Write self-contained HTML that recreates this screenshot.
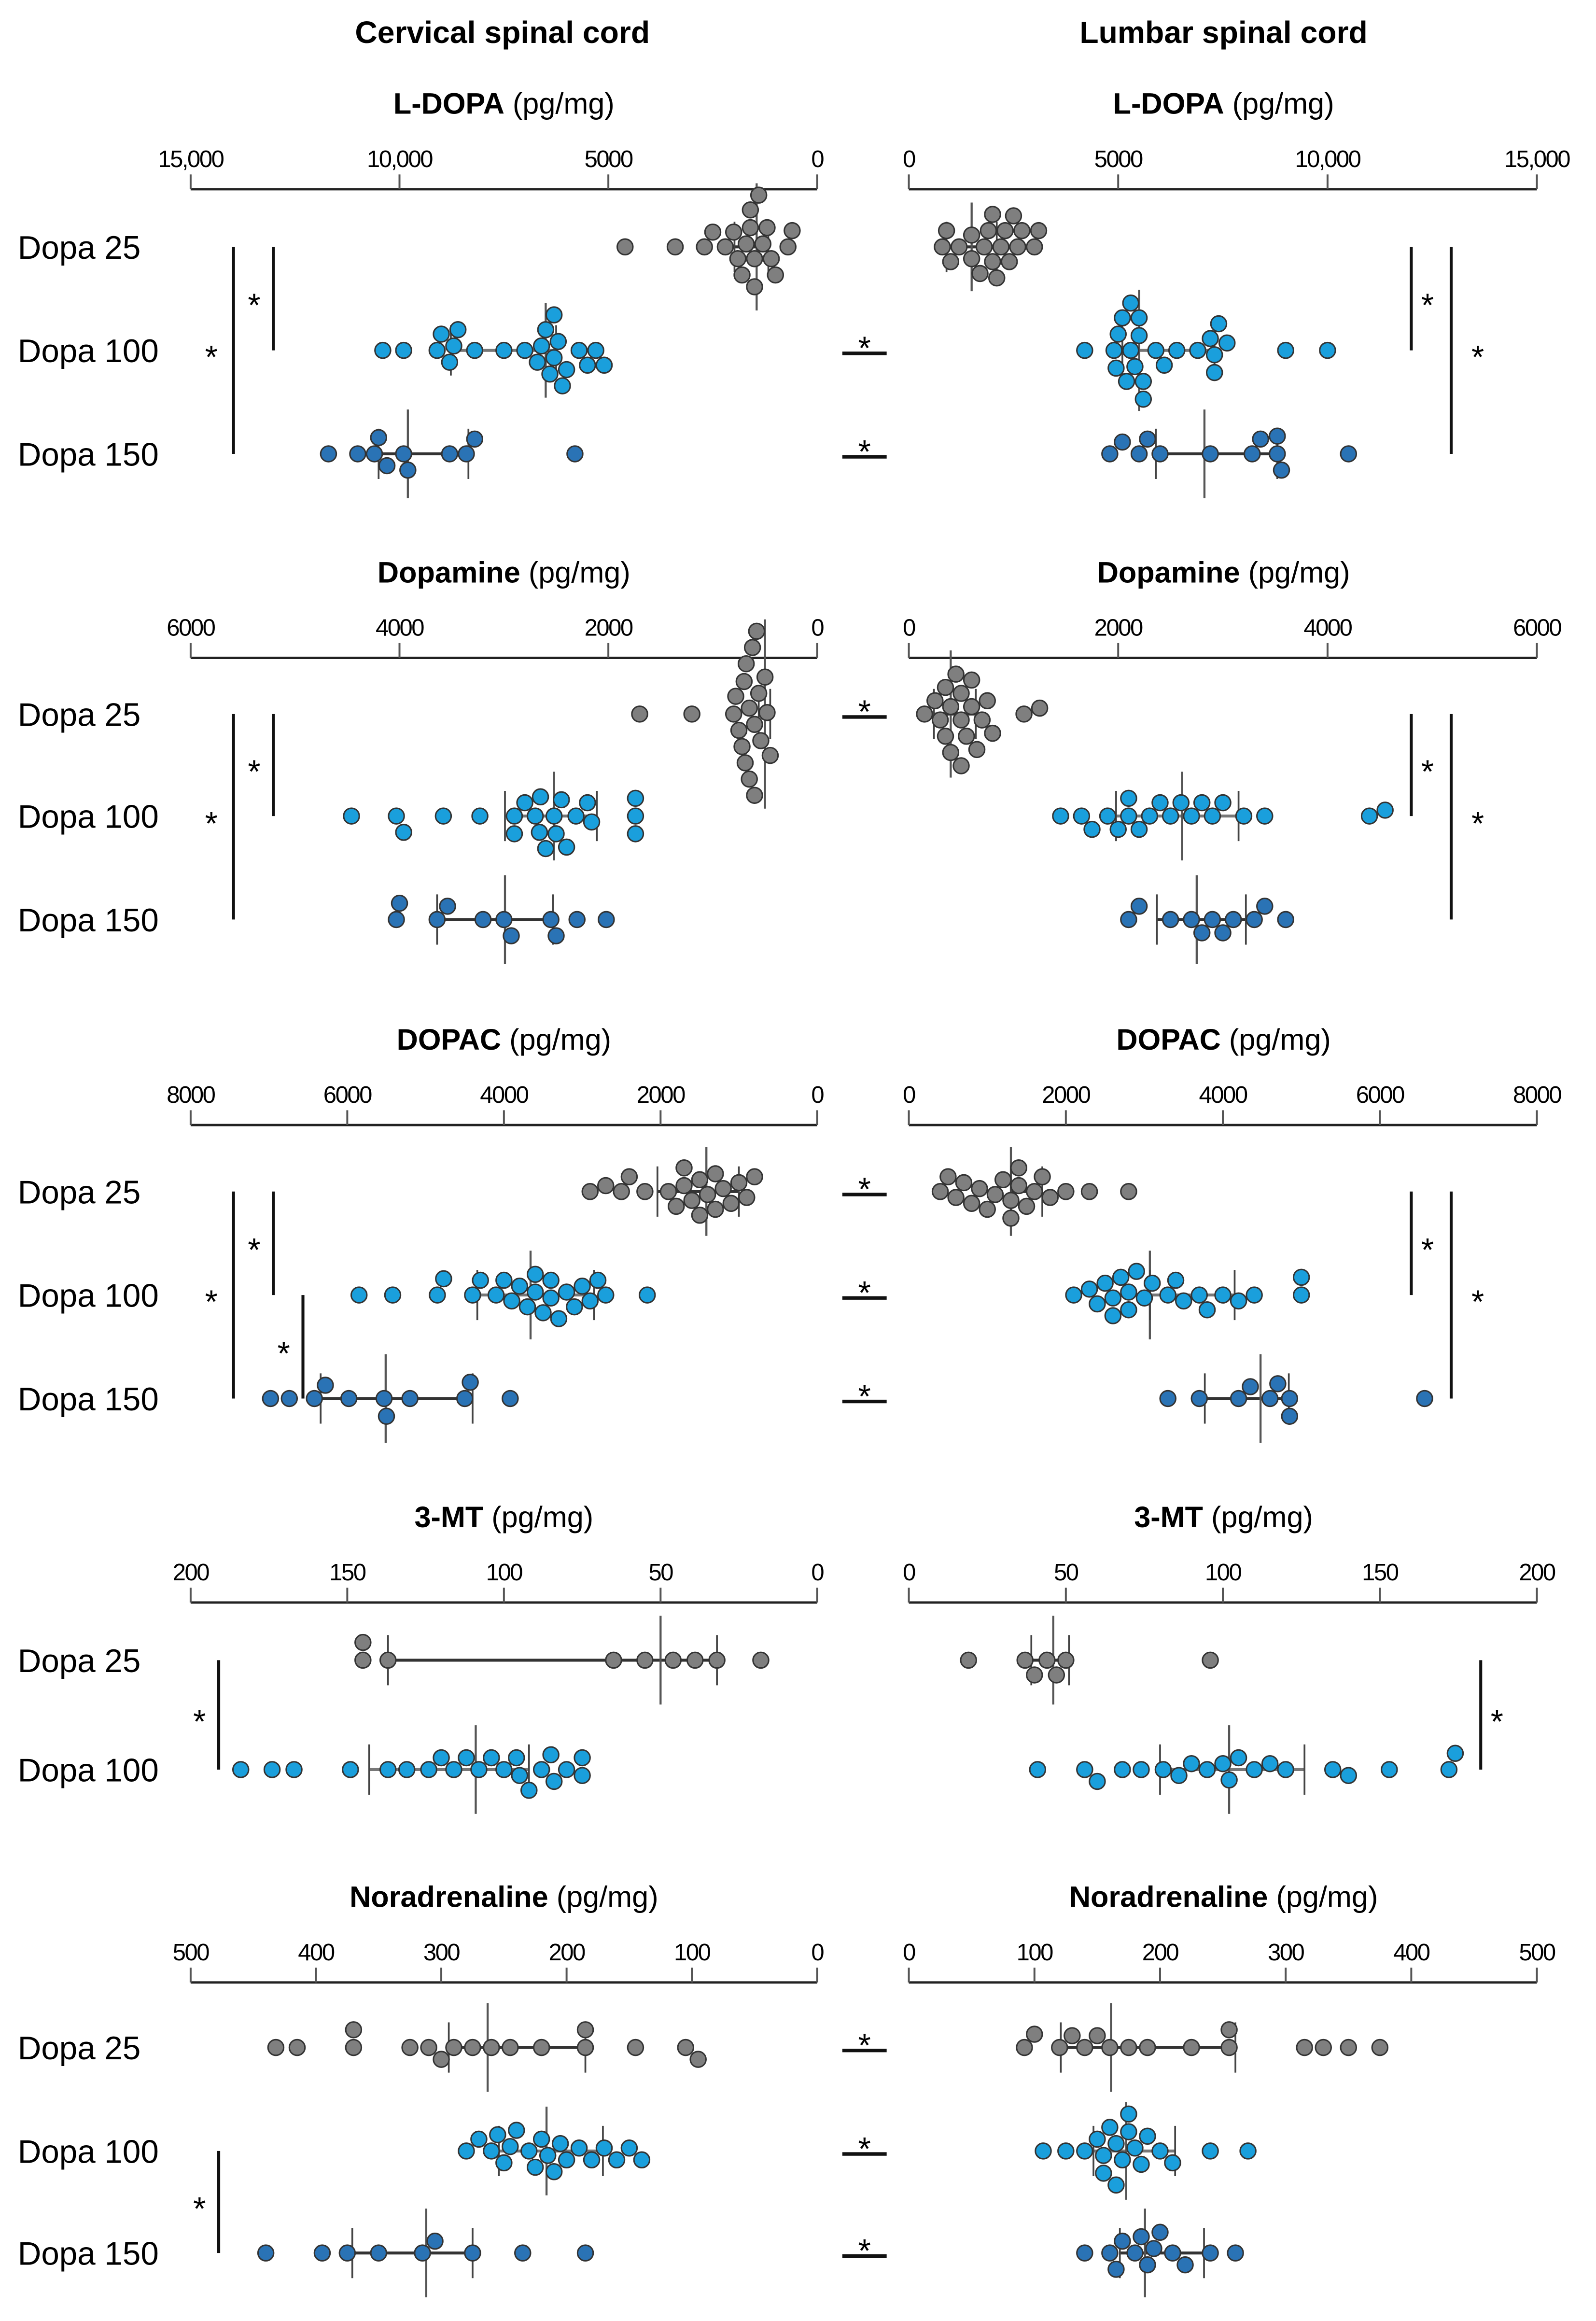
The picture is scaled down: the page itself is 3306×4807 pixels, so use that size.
<!DOCTYPE html>
<html><head><meta charset="utf-8"><style>
html,body{margin:0;padding:0;background:#fff;}
svg{display:block;font-family:"Liberation Sans",sans-serif;}
</style></head><body>
<svg id="chart" width="3306" height="4807" viewBox="0 0 1080 1570" preserveAspectRatio="none" xmlns="http://www.w3.org/2000/svg">
<text x="340" y="29" text-anchor="middle" font-size="21" font-weight="bold">Cervical spinal cord</text>
<text x="828" y="29" text-anchor="middle" font-size="21" font-weight="bold">Lumbar spinal cord</text>
</svg>
<script>
// ---------- data ----------
const panelTitles = ["L-DOPA","Dopamine","DOPAC","3-MT","Noradrenaline"];
const panelMax = [15000,6000,8000,200,500];
const tickValsLD = [0,5000,10000,15000];
const tickLabelsLD = ["0","5000","10,000","15,000"];
const tickValsDA = [0,2000,4000,6000];
const tickLabelsDA = ["0","2000","4000","6000"];
const tickValsDOPAC = [0,2000,4000,6000,8000];
const tickLabelsDOPAC = ["0","2000","4000","6000","8000"];
const tickVals3MT = [0,50,100,150,200];
const tickLabels3MT = ["0","50","100","150","200"];
const tickValsNA = [0,100,200,300,400,500];
const tickLabelsNA = ["0","100","200","300","400","500"];
const groupLabels = ["Dopa 25","Dopa 100","Dopa 150"];

// L-DOPA
const ldopaC25 = [4600,3400,2700,2500,2200,2000,1900,1800,1700,1600,1600,1500,1500,1400,1300,1200,1100,1000,700,600];
const ldopaC100 = [10400,9900,9100,9000,8800,8600,8200,7500,7000,6700,6500,6400,6300,6200,6100,6000,5700,5300,5100,5500,6600,6300,8700];
const ldopaC150 = [11700,11000,10600,10500,10300,9900,9800,8800,8400,8200,5800];
const ldopaL25 = [800,900,1000,1200,1500,1500,1700,1800,1900,2000,2000,2100,2200,2300,2400,2500,2600,2700,3000,3100];
const ldopaL100 = [4200,4900,4950,5000,5100,5200,5300,5300,5400,5500,5500,5600,5600,5900,6100,6400,6900,7200,7300,7300,7400,7600,9000,10000];
const ldopaL150 = [4800,5100,5500,5700,6000,7200,8200,8400,8800,8800,8900,10500];
const ldopaC25Stat = [1450,1170,1980];
const ldopaC100Stat = [6500,6250,8770];
const ldopaC150Stat = [9800,8350,10500];
const ldopaL25Stat = [1500,900,2100];
const ldopaL100Stat = [5500,5100,7300];
const ldopaL150Stat = [7060,5900,8800];
// Dopamine
const daC25 = [1700,1200,800,780,750,720,700,690,680,650,620,600,580,560,540,500,480,450,650,600];
const daC100 = [4460,4030,3960,3580,3230,2900,2800,2700,2660,2600,2520,2500,2450,2400,2310,2200,2160,1740,1740,1740,2900,2650];
const daC150 = [4030,4000,3640,3540,3200,3000,2930,2550,2500,2300,2020];
const daL25 = [150,250,300,350,350,400,400,450,500,500,500,550,600,600,650,700,750,800,1100,1250];
const daL100 = [1450,1650,1750,1900,2000,2100,2100,2200,2300,2400,2500,2600,2700,2800,2900,3000,3200,3400,4400,4550];
const daL150 = [2100,2200,2500,2700,2800,2900,3000,3100,3300,3400,3600];
const daC25Stat = [500,450,560];
const daC100Stat = [2520,2110,2990];
const daC150Stat = [2990,2530,3640];
const daL25Stat = [400,240,640];
const daL100Stat = [2610,1980,3150];
const daL150Stat = [2750,2370,3220];
// DOPAC
const dopacC25 = [2900,2700,2500,2400,2200,1900,1800,1700,1700,1600,1500,1500,1400,1300,1300,1200,1100,1000,900,800];
const dopacC100 = [5850,5420,4850,4770,4400,4300,4100,4000,3900,3800,3700,3600,3600,3500,3400,3400,3300,3200,3100,3000,2900,2800,2700,2170];
const dopacC150 = [6980,6740,6420,6280,5980,5530,5500,5200,4500,4430,3920];
const dopacL25 = [400,500,600,700,800,900,1000,1100,1200,1300,1300,1400,1400,1500,1600,1700,1800,2000,2300,2800];
const dopacL100 = [2100,2300,2400,2500,2600,2600,2700,2800,2800,2900,3000,3100,3300,3400,3500,3700,3800,4000,4200,4400,5000,5000];
const dopacL150 = [3300,3700,4200,4350,4600,4700,4850,4850,6570];
const dopacC25Stat = [1415,1000,2040];
const dopacC100Stat = [3660,2850,4340];
const dopacC150Stat = [5510,4400,6340];
const dopacL25Stat = [1300,1300,1700];
const dopacL100Stat = [3070,3070,4150];
const dopacL150Stat = [4480,3770,4840];
// 3-MT
const mtC25 = [145,145,137,65,55,46,39,32,18];
const mtC100 = [184,174,167,149,137,131,124,120,116,112,108,104,100,96,92,88,84,80,75,75,85,95];
const mtL25 = [19,37,40,44,47,50,96];
const mtL100 = [41,56,60,68,74,81,86,90,95,100,102,105,110,115,120,135,140,153,172,174];
const mtC25Stat = [50,32,137];
const mtC100Stat = [109,92,143];
const mtL25Stat = [46,39,51];
const mtL100Stat = [102,80,126];
// Noradrenaline
const naC25 = [432,415,370,370,325,310,300,290,275,260,245,220,185,185,145,105,95];
const naC100 = [280,270,260,255,250,245,240,230,225,220,215,210,205,200,190,180,170,160,150,140];
const naC150 = [440,395,375,350,315,305,275,235,185];
const naL25 = [92,100,120,130,140,150,160,175,190,225,255,255,315,330,350,375];
const naL100 = [107,125,140,150,155,155,160,165,165,170,175,175,180,185,190,200,210,240,270];
const naL150 = [140,160,165,170,180,185,190,195,200,210,220,240,260];
const naC25Stat = [263,185,294];
const naC100Stat = [216,171,254];
const naC150Stat = [312,275,371];
const naL25Stat = [161,121,260];
const naL100Stat = [173,147,212];
const naL150Stat = [188,168,235];

// ---------- layout ----------
const svg = document.getElementById('chart');
const NS = 'http://www.w3.org/2000/svg';
const panelTop = [70,387,703,1026,1283];
const rowOffsets = [[97,167,237],[96,165,235],[103,173,243],[97,171],[102,172,241]];
const colors = ['#7f7f7f','#1a9fdc','#2a73b5'];
const tickSets = [[tickValsLD,tickLabelsLD],[tickValsDA,tickLabelsDA],[tickValsDOPAC,tickLabelsDOPAC],[tickVals3MT,tickLabels3MT],[tickValsNA,tickLabelsNA]];
const groups = [
 [[ldopaC25,ldopaC100,ldopaC150],[ldopaL25,ldopaL100,ldopaL150],[ldopaC25Stat,ldopaC100Stat,ldopaC150Stat],[ldopaL25Stat,ldopaL100Stat,ldopaL150Stat]],
 [[daC25,daC100,daC150],[daL25,daL100,daL150],[daC25Stat,daC100Stat,daC150Stat],[daL25Stat,daL100Stat,daL150Stat]],
 [[dopacC25,dopacC100,dopacC150],[dopacL25,dopacL100,dopacL150],[dopacC25Stat,dopacC100Stat,dopacC150Stat],[dopacL25Stat,dopacL100Stat,dopacL150Stat]],
 [[mtC25,mtC100],[mtL25,mtL100],[mtC25Stat,mtC100Stat],[mtL25Stat,mtL100Stat]],
 [[naC25,naC100,naC150],[naL25,naL100,naL150],[naC25Stat,naC100Stat,naC150Stat],[naL25Stat,naL100Stat,naL150Stat]]
];
function xL(v,max){return 553 - v/max*424;}
function xR(v,max){return 615 + v/max*425;}
function mk(tag,attrs,parent){const e=document.createElementNS(NS,tag);for(const k in attrs)e.setAttribute(k,attrs[k]);(parent||svg).appendChild(e);return e;}

function swarm(xs){
  const placed=[];const d=11.2;
  const order=xs.map((x,i)=>i).sort((a,b)=>xs[a]-xs[b]);
  const ys=new Array(xs.length);
  let flip=1;
  for(const i of order){
    const x=xs[i];let best=0;
    for(let k=0;k<200;k++){
      const off=(k%2?flip:-flip)*Math.ceil(k/2);
      let ok=true;
      for(const p of placed){const dx=p[0]-x,dy=p[1]-off;if(dx*dx+dy*dy<d*d){ok=false;break;}}
      if(ok){best=off;break;}
    }
    flip=-flip;
    placed.push([x,best]);ys[i]=best;
  }
  return ys;
}

const brackets = [
 [0,158,0,2,143],[0,185,0,1,172],[0,955,0,1,966],[0,982,0,2,1000],
 [1,158,0,2,143],[1,185,0,1,172],[1,955,0,1,966],[1,982,0,2,1000],
 [2,158,0,2,143],[2,185,0,1,172],[2,205,1,2,192],[2,955,0,1,966],[2,982,0,2,1000],
 [3,148,0,1,135],[3,1002,0,1,1013],
 [4,148,1,2,135]
];
const midStars = [[0,1],[0,2],[1,0],[2,0],[2,1],[2,2],[4,0],[4,1],[4,2]];

for(let p=0;p<5;p++){
  const top=panelTop[p], max=panelMax[p];
  const g=mk('g',{});
  
  
  for(const side of ['L','R']){
    const cx= side==='L'?341:828;
    const t=mk('text',{x:cx,y:top+7,'text-anchor':'middle','font-size':20},g);
    
    
    const b=mk('tspan',{'font-weight':'bold'},t);b.textContent=panelTitles[p];
    const n=mk('tspan',{},t);n.textContent=' (pg/mg)';
    const sc=v=> side==='L'?xL(v,max):xR(v,max);
    const ay=top+58;
    const ax=mk('line',{x1:sc(0),x2:sc(max),y1:ay,y2:ay,stroke:'#222','stroke-width':1.6},g);
    
    
    const [tv,tl]=tickSets[p];
    tv.forEach((v,i)=>{
      const tk=mk('line',{x1:sc(v),x2:sc(v),y1:ay-10,y2:ay,stroke:'#555','stroke-width':1.3},g);
      
      
      const tx=mk('text',{x:sc(v),y:top+43,'text-anchor':'middle','font-size':16,'letter-spacing':'-0.8'},g);
      
      
      tx.textContent=tl[i];
    });
    const vals=groups[p][side==='L'?0:1], stats=groups[p][side==='L'?2:3];
    vals.forEach((arr,r)=>{
      const ry=top+rowOffsets[p][r];
      const st=stats[r];
      const xs=arr.map(sc);
      const ys=swarm(xs);
      const ec = r===1?'#777':'#333';
      const el=mk('line',{x1:sc(st[1]),x2:sc(st[2]),y1:ry,y2:ry,stroke:ec,'stroke-width':2},g);
      
      
      const hgt = Math.max(...ys.map(Math.abs))+8;
      const ml=mk('line',{x1:sc(st[0]),x2:sc(st[0]),y1:ry-Math.max(hgt,30),y2:ry+Math.max(hgt,30),stroke:'#555','stroke-width':1.4},g);
      
      
      [st[1],st[2]].forEach(v=>{
        const c=mk('line',{x1:sc(v),x2:sc(v),y1:ry-17,y2:ry+17,stroke:'#444','stroke-width':1.2},g);
        
        
      });
      xs.forEach((x,i)=>{
        const c=mk('circle',{cx:x,cy:ry+ys[i],r:5.3,fill:colors[r],stroke:'#333','stroke-width':1},g);
        
        
      });
      if(side==='L'){
        const lb=mk('text',{x:12,y:ry+8,'font-size':22},g);
        
        
        lb.textContent=groupLabels[r];
      }
    });
  }
}
brackets.forEach(b=>{
  const [p,x,r1,r2,sx]=b;
  const y1=panelTop[p]+rowOffsets[p][r1], y2=panelTop[p]+rowOffsets[p][r2];
  const ln=mk('line',{x1:x,x2:x,y1:y1,y2:y2,stroke:'#111','stroke-width':2});
  
  
  const s=mk('text',{x:sx,y:(y1+y2)/2+12,'text-anchor':'middle','font-size':22});
  
  
  s.textContent='*';
});
midStars.forEach(m=>{
  const [p,r]=m;
  const y=panelTop[p]+rowOffsets[p][r];
  const ln=mk('line',{x1:570,x2:600,y1:y+2,y2:y+2,stroke:'#111','stroke-width':2.4});
  
  
  const s=mk('text',{x:585,y:y+6,'text-anchor':'middle','font-size':22});
  
  
  s.textContent='*';
});
</script>
</body></html>
